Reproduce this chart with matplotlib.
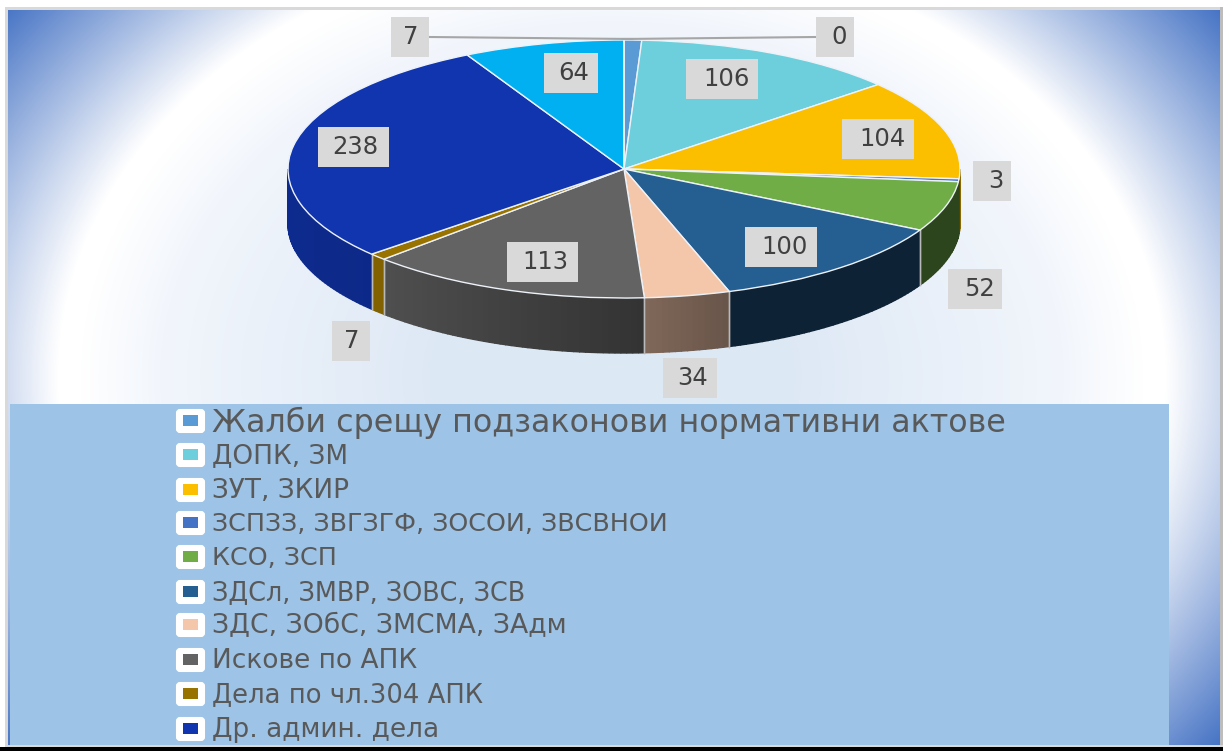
import numpy as np
import matplotlib
matplotlib.use("Agg")
import matplotlib.pyplot as plt
from matplotlib.colors import to_rgb
from matplotlib.patches import Rectangle, FancyBboxPatch

# ---------- data ----------
categories = ["Жалби срещу подзаконови нормативни актове", "ДОПК, ЗМ", "ЗУТ, ЗКИР",
              "ЗСПЗЗ, ЗВГЗГФ, ЗОСОИ, ЗВСВНОИ", "КСО, ЗСП", "ЗДСл, ЗМВР, ЗОВС, ЗСВ",
              "ЗДС, ЗОбС, ЗМСМА, ЗАдм", "Искове по АПК", "Дела по чл.304 АПК", "Др. админ. дела"]
values = [7, 106, 104, 3, 52, 100, 34, 113, 7, 238, 64, 0]
colors = ["#5B9BD5", "#6DCFDB", "#FCBF00", "#4472C4", "#70AD47", "#255E91",
          "#F4C7AB", "#636363", "#997300", "#1035AF", "#00B0F0", "#A5A5A5"]
# side-wall brightness at the wall's left and right end
shade_left = [.6, .6, .55, .5, .4, .36, .52, .80, .85, .82, .6, .6]
shade_right = [.6, .6, .55, .5, .4, .36, .43, .52, .85, .78, .6, .6]
# data-label box centres and widths, text offset inside the box, in pixels
label_x = [410, 722, 878, 992, 975, 781, 690, 542, 351, 353, 571, 835]
label_y = [37, 79, 139, 181, 289, 247, 378, 262, 341, 147, 73, 37]
label_w = [38, 72, 72, 38, 54, 72, 54, 71, 38, 71, 54, 38]
label_dx = [1, 4, 4.5, 3.5, 4.5, 4, 3, 3, 1, 2, 3, 4]
legend_sizes = [22.9, 18.9, 18.9, 18.3, 18.3, 18.4, 19.2, 19.0, 18.6, 19.0]
legend_rows = [421, 455, 490, 523, 557, 592, 625, 660, 694, 729]

W, H = 1225, 751
CX, CY, RX, RY, DEPTH = 624, 169, 336, 129, 55

fig = plt.figure(figsize=(W / 100, H / 100), dpi=100, facecolor="white")

# ---------- background (pixel axes) ----------
bg = fig.add_axes([0, 0, 1, 1], zorder=0)
bg.set_xlim(0, W); bg.set_ylim(H, 0); bg.axis("off")
px0, px1, py0, py1 = 7, 1220, 9, 745
xx, yy = np.meshgrid(np.arange(px0, px1) + .5, np.arange(py0, py1) + .5)
rr = np.sqrt(((xx - 612) / 565) ** 2 + ((yy - 377) / 445) ** 2)
stops = [0, .3, .8, .94, .98, 1.36]
cols = np.array([to_rgb(c) for c in ["#DDE8F5", "#DDE8F5", "#F2F6FC", "#FFFFFF", "#FFFFFF", "#4472C4"]])
img = np.stack([np.interp(rr, stops, cols[:, i]) for i in range(3)], axis=-1)
bg.imshow(img, extent=(px0, px1, py1, py0), aspect="auto", interpolation="bilinear", zorder=1)
bg.set_xlim(0, W); bg.set_ylim(H, 0)
bg.add_patch(Rectangle((10, 404), 1159, 341, fc="#9DC3E6", ec="none", zorder=2))
# frame
bg.add_patch(Rectangle((5, 7), 1217, 2.5, fc="#D9D9D9", ec="none", zorder=3))
bg.add_patch(Rectangle((5, 7), 2.5, 740, fc="#D9D9D9", ec="none", zorder=3))
bg.add_patch(Rectangle((1220, 7), 3, 740, fc="#BDBDBD", ec="none", zorder=3))
bg.add_patch(Rectangle((5, 745), 1218, 2, fc="#D9D9D9", ec="none", zorder=3))
bg.add_patch(Rectangle((0, 747), 1223, 4, fc="#000000", ec="none", zorder=3))

# ---------- pie (elliptical unit axes) ----------
ax = fig.add_axes([0, 0, 1, 1], zorder=1)
ax.patch.set_alpha(0)
wedges, _ = ax.pie(values, colors=colors, startangle=90, counterclock=False, radius=1,
                   wedgeprops=dict(edgecolor="#EDF2F8", linewidth=1.0, zorder=5))
ax.set_aspect("auto")
ax.set_xlim(-CX / RX, (W - CX) / RX)
ax.set_ylim((CY - H) / RY, CY / RY)
ax.axis("off")
d = DEPTH / RY
for w, c, sl, sr in zip(wedges, colors, shade_left, shade_right):
    for k in (-360, 0, 360):
        lo, hi = max(w.theta1 + k, 180), min(w.theta2 + k, 360)
        if hi <= lo:
            continue
        th = np.radians(np.linspace(lo, hi, max(2, int(hi - lo) + 1)))
        base = np.array(to_rgb(c))
        for i in range(len(th) - 1):
            f = i / max(1, len(th) - 2)
            col = np.clip(base * (sl + (sr - sl) * f), 0, 1)
            xs = [np.cos(th[i]), np.cos(th[i + 1]), np.cos(th[i + 1]), np.cos(th[i])]
            ys = [np.sin(th[i]), np.sin(th[i + 1]), np.sin(th[i + 1]) - d, np.sin(th[i]) - d]
            ax.fill(xs, ys, color=col, lw=1.0, zorder=2)
        for t in (th[0], th[-1]):
            if -0.995 < np.cos(t) < 0.995:
                ax.plot([np.cos(t)] * 2, [np.sin(t), np.sin(t) - d], color="#B9B9B9", lw=1, zorder=3)

# ---------- labels and legend (pixel axes on top) ----------
top = fig.add_axes([0, 0, 1, 1], zorder=2)
top.patch.set_alpha(0)
top.set_xlim(0, W); top.set_ylim(H, 0); top.axis("off")
top.plot([429, 632], [37, 39], color="#A6A6A6", lw=1.5)
top.plot([816, 623], [37, 39], color="#A6A6A6", lw=1.5)
for x, y, w, v, dx in zip(label_x, label_y, label_w, values, label_dx):
    top.add_patch(Rectangle((x - w / 2, y - 20), w, 40, fc="#D9D9D9", ec="none", zorder=3))
    top.text(x + dx, y, str(v), ha="center", va="center", fontsize=17.5, color="#404040",
             family="DejaVu Sans", zorder=4)
for lab, y, c, s in zip(categories, legend_rows, colors, legend_sizes):
    top.add_patch(FancyBboxPatch((177, y - 11), 27, 22, boxstyle="round,pad=0,rounding_size=3",
                                 fc="white", ec="white", lw=1.5, zorder=3))
    top.add_patch(Rectangle((183, y - 6), 14.5, 11, fc=c, ec="none", zorder=4))
    top.text(212, y - 2, lab, ha="left", va="center_baseline", fontsize=s, color="#595959",
             family="DejaVu Sans", zorder=4)

fig.savefig("out.png", dpi=100)
